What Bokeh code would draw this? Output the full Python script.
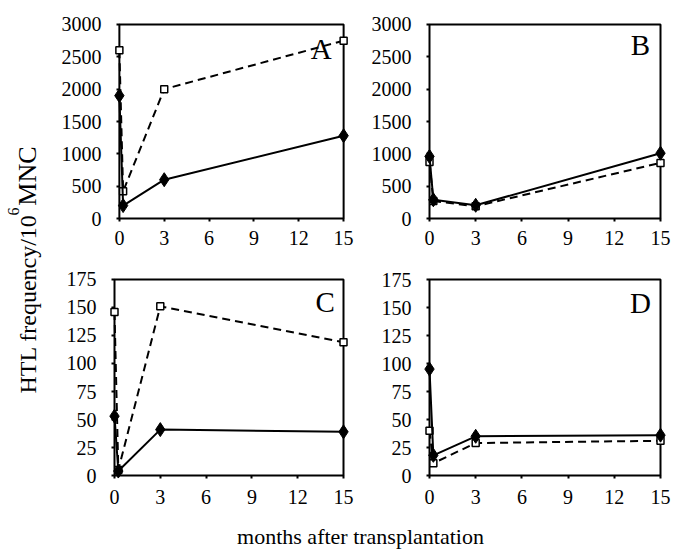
from bokeh.plotting import figure
from bokeh.layouts import column, row
from bokeh.models import Range1d, FixedTicker, Label
from bokeh.embed import file_html
from bokeh.resources import INLINE

FONT = "Liberation Serif"

months = [0, 0.25, 3, 15]
x_ticks = [0, 3, 6, 9, 12, 15]
x_max = 15

A_solid = [1900, 200, 600, 1280]
A_dash = [2600, 420, 2000, 2750]
B_solid = [960, 290, 205, 1010]
B_dash = [875, 270, 190, 860]
C_solid = [53, 4, 41, 39]
C_dash = [146, 5, 151, 119]
D_solid = [95, 18, 35, 36]
D_dash = [40, 11, 29, 31]

ticks_top = [0, 500, 1000, 1500, 2000, 2500, 3000]
ticks_bottom = [0, 25, 50, 75, 100, 125, 150, 175]

y_label_main = "HTL frequency/10"
y_label_sup = "6"
y_label_end = "MNC"
x_label = "months after transplantation"

PAD = 6  # pixels between frame edge and the drawn box, so markers are not clipped


def panel(width, height, bl, br, bt, bb, ymax, yticks, solid, dash, letter, lx, ly, xstand):
    fw = width - bl - br
    fh = height - bt - bb
    px = x_max * PAD / (fw - 2 * PAD)
    py = ymax * PAD / (fh - 2 * PAD)
    p = figure(width=width, height=height, x_range=Range1d(-px, x_max + px),
               y_range=Range1d(-py, ymax + py),
               output_backend="svg", toolbar_location=None,
               min_border_left=bl, min_border_right=br, min_border_top=bt, min_border_bottom=bb)
    p.grid.visible = False
    p.outline_line_color = None
    for ax in (p.xaxis[0], p.yaxis[0]):
        ax.axis_line_color = None
        ax.major_tick_line_width = 2
        ax.major_tick_line_color = "black"
        ax.major_tick_in = PAD
        ax.major_tick_out = -3
        ax.minor_tick_line_color = None
        ax.major_label_text_font = FONT
        ax.major_label_text_font_size = "20px"
        ax.major_label_text_color = "black"
    p.xaxis.ticker = FixedTicker(ticks=x_ticks)
    p.yaxis.ticker = FixedTicker(ticks=yticks)
    p.xaxis.major_label_standoff = xstand
    p.yaxis.major_label_standoff = 12

    # the panel box at the data limits
    p.quad(left=[0], right=[x_max], bottom=[0], top=[ymax], fill_color=None,
           line_color="black", line_width=2)

    p.line(months, dash, line_color="black", line_width=2, line_dash="8 5")
    p.scatter(months, dash, marker="square", size=7, fill_color="white",
              line_color="black", line_width=1.5)
    p.line(months, solid, line_color="black", line_width=2)
    p.scatter(months, solid, marker="diamond", size=14, fill_color="black", line_color="black")

    p.add_layout(Label(x=lx, y=ly, text=letter, text_font=FONT, text_font_size="29px",
                       text_align="center", text_baseline="middle", text_color="black"))
    return p


pA = panel(296, 258, 50, 5, 17, 34, 3000, ticks_top, A_solid, A_dash, "A", 13.5, 2615, 6)
pB = panel(317, 258, 69, 5, 18, 33, 3000, ticks_top, B_solid, B_dash, "B", 13.7, 2677, 6)
pC = panel(296, 252, 50, 5, 14, 29, 175, ticks_bottom, C_solid, C_dash, "C", 13.8, 155, 8)
pD = panel(317, 252, 69, 5, 15, 29, 175, ticks_bottom, D_solid, D_dash, "D", 13.7, 154, 8)


def blank(width, height):
    f = figure(width=width, height=height, x_range=Range1d(0, width), y_range=Range1d(0, height),
               output_backend="svg", toolbar_location=None, min_border=0)
    f.axis.visible = False
    f.grid.visible = False
    f.outline_line_color = None
    return f


ROT = 1.5707963
ylab = blank(58, 510)
ylab.add_layout(Label(x=27, y=117, text=y_label_main, angle=ROT, text_font=FONT,
                      text_font_size="24px", text_align="left", text_baseline="middle",
                      text_color="black"))
ylab.add_layout(Label(x=13, y=299, text=y_label_sup, angle=ROT, text_font=FONT,
                      text_font_size="16px", text_align="center", text_baseline="middle",
                      text_color="black"))
ylab.add_layout(Label(x=27, y=364, text=y_label_end, angle=ROT, text_font=FONT,
                      text_font_size="26px", text_align="right", text_baseline="middle",
                      text_color="black"))

xlab = blank(671, 39)
xlab.add_layout(Label(x=360, y=13, text=x_label, text_font=FONT, text_font_size="22px",
                      text_align="center", text_baseline="middle", text_color="black"))

layout = column(row(ylab, column(row(pA, pB), row(pC, pD))), xlab)

open("out.html", "w").write(file_html(layout, INLINE))
